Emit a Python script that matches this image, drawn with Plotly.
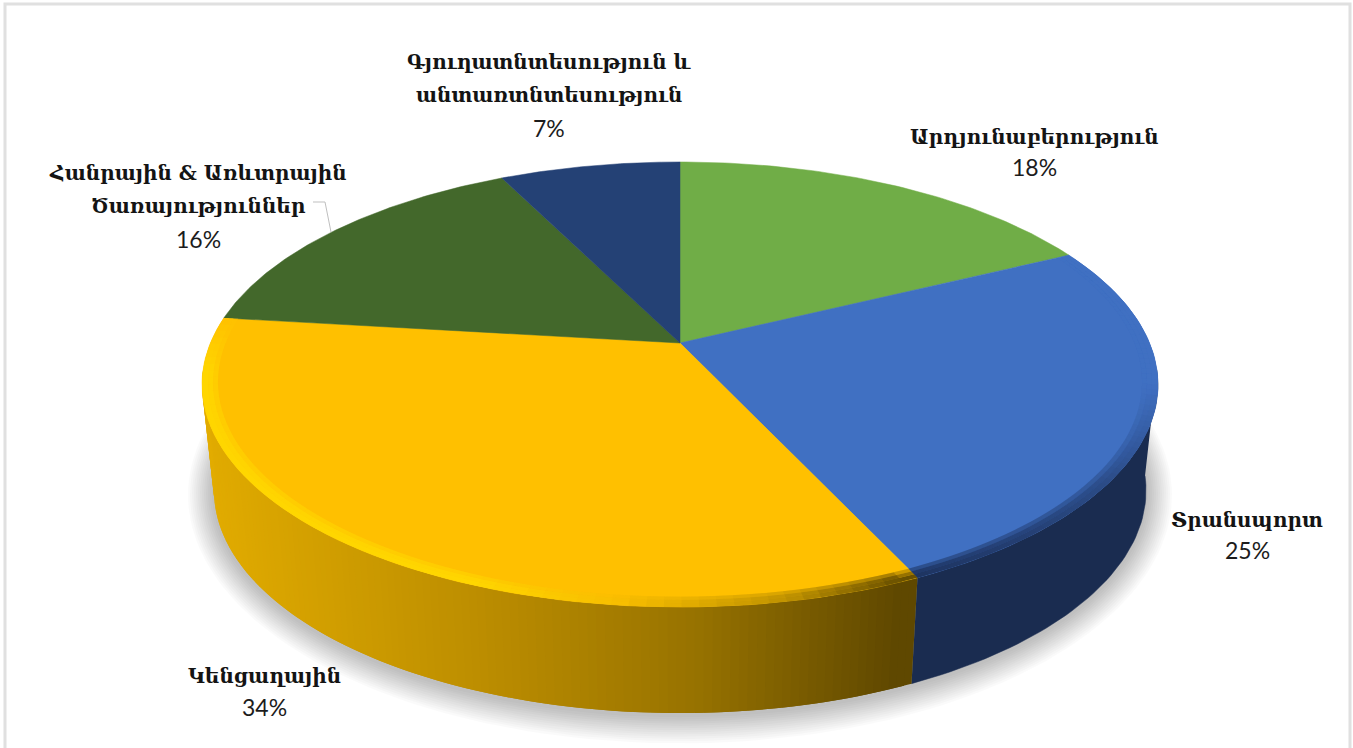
"""Tilted pie of shares by sector, built from filled polygons on a pixel-sized plot."""

import numpy as np
import plotly.graph_objects as go

SECTORS = ["Արդյունաբերություն", "Տրանսպորտ", "Կենցաղային", "Հանրային & Առևտրային Ծառայություններ", "Գյուղատնտեսություն և անտառտնտեսություն"]
SHARES = [17.7, 25.4, 33.8, 15.8, 7.3]
TOP_COLORS = ["#70AD47", "#4070C2", "#FFC000", "#43682B", "#244175"]
LABEL_LINES = [
    ["Արդյունաբերություն"],
    ["Տրանսպորտ"],
    ["Կենցաղային"],
    ["Հանրային & Առևտրային", "Ծառայություններ"],
    ["Գյուղատնտեսություն և", "անտառտնտեսություն"],
]
LABEL_X = [1034, 1247, 264, 198, 549]
LABEL_Y = [137, 520, 676, 173, 62]
LINE_GAPS = [30, 30, 31, 33, 33]

CX, CY = 680, 343
A, B, K = 469.6, 214.8, 0.1865
DEPTH = 106
BOTTOM_SCALE = 0.975
NAME_FONT = dict(family="'DejaVu Serif', serif", size=20, color="#141414", weight="bold")
SHARE_FONT = dict(family="Lato, sans-serif", size=23, color="#1C1C1C")


def project(theta, r=1.0):
    u, v = r * np.sin(theta), r * np.cos(theta)
    w = 1 + K * v
    return CX + A * u / w, CY - B * v / w


def bottom(theta):
    x, y = project(theta)
    return CX + BOTTOM_SCALE * (x - CX), y + DEPTH


def mix(stops, t, alpha=1.0):
    pos = [s[0] for s in stops]
    rgb = [int(np.interp(t, pos, [s[1][i] for s in stops])) for i in range(3)]
    return "rgba(%d,%d,%d,%s)" % (*rgb, alpha)


def poly(fig, x, y, color, stroke=0):
    fig.add_trace(go.Scatter(
        x=list(x), y=list(y), mode="lines", fill="toself", fillcolor=color,
        line=dict(color=color, width=stroke), hoverinfo="skip", showlegend=False,
    ))


fig = go.Figure()

# soft shadow under the disc
t_all = np.linspace(0, 2 * np.pi, 241)
bx, by = bottom(t_all)
for d in range(26, 0, -2):
    sx = CX + (bx - CX) * (1 + d / 466)
    sy = by.mean() + (by - by.mean()) * (1 + d / 224) + 2
    poly(fig, sx, sy, "rgba(0,0,0,0.02)")

edges = np.radians(np.cumsum([0] + SHARES) * 3.6)
wall_from, wall_to = np.radians(97), np.radians(263)
yellow_wall = [(203, (226, 172, 0)), (500, (186, 140, 0)), (700, (152, 115, 0)), (905, (95, 72, 0))]

# side wall: dark blue part, then yellow in overlapping strips for the gradient
t = np.linspace(wall_from, edges[2], 50)
xt, yt = project(t)
xb, yb = bottom(t)
poly(fig, np.r_[xt, xb[::-1]], np.r_[yt, yb[::-1]], "#1A2C50", 0.5)

t = np.linspace(edges[2], wall_to, 121)
for k in range(len(t) - 1):
    seg = t[k:k + 3]
    xt, yt = project(seg)
    xb, yb = bottom(seg)
    poly(fig, np.r_[xt, xb[::-1]], np.r_[yt, yb[::-1]], mix(yellow_wall, xt[0]))

# top faces
for i, color in enumerate(TOP_COLORS):
    t = np.linspace(edges[i], edges[i + 1], 80)
    x, y = project(t)
    poly(fig, np.r_[CX, x, CX], np.r_[CY, y, CY], color, 0.5)

# bevel along the front edge of the yellow and blue slices
yellow_rim = [(156, (105, 80, 0)), (168, (190, 145, 0)), (185, (248, 190, 0)), (200, (255, 214, 0)), (262, (255, 214, 0)), (277, (255, 192, 0))]
blue_rim = [(100, (64, 112, 194)), (125, (44, 76, 136)), (156, (30, 52, 96))]
for i, rim in ((1, blue_rim), (2, yellow_rim)):
    t = np.linspace(edges[i], edges[i + 1], 70)
    for k in range(len(t) - 1):
        seg = t[k:k + 3]
        for r0, r1, alpha in ((0.978, 0.968, 0.35), (0.988, 0.978, 0.7), (1.0, 0.988, 1.0)):
            x0, y0 = project(seg, r0)
            x1, y1 = project(seg, r1)
            poly(fig, np.r_[x0, x1[::-1]], np.r_[y0, y1[::-1]], mix(rim, np.degrees(t[k]), alpha))

annotations = []
for lines, share, x, y, gap in zip(LABEL_LINES, SHARES, LABEL_X, LABEL_Y, LINE_GAPS):
    for j, text in enumerate(lines):
        annotations.append(dict(x=x, y=y + j * gap, text=text, showarrow=False, font=NAME_FONT))
    annotations.append(dict(x=x, y=y + len(lines) * gap, text=f"{share:.0f}%", showarrow=False, font=SHARE_FONT))

fig.update_layout(
    width=1353,
    height=748,
    margin=dict(l=0, r=0, t=0, b=0),
    paper_bgcolor="white",
    plot_bgcolor="white",
    showlegend=False,
    annotations=annotations,
    xaxis=dict(range=[0, 1353], visible=False, fixedrange=True),
    yaxis=dict(range=[748, 0], visible=False, fixedrange=True),
    shapes=[
        # outer frame of the pasted chart
        dict(type="path", path="M 5 748 L 5 4 L 1350 4 L 1350 748", line=dict(color="#E0E0E0", width=3)),
        # leader line for the services label
        dict(type="path", path="M 313 202 L 325 202 L 331 232", line=dict(color="#BFBFBF", width=1)),
    ],
)

fig.write_html(
    "out.html",
    config={"displayModeBar": False},
    post_script="document.body.style.margin='0';",
)
